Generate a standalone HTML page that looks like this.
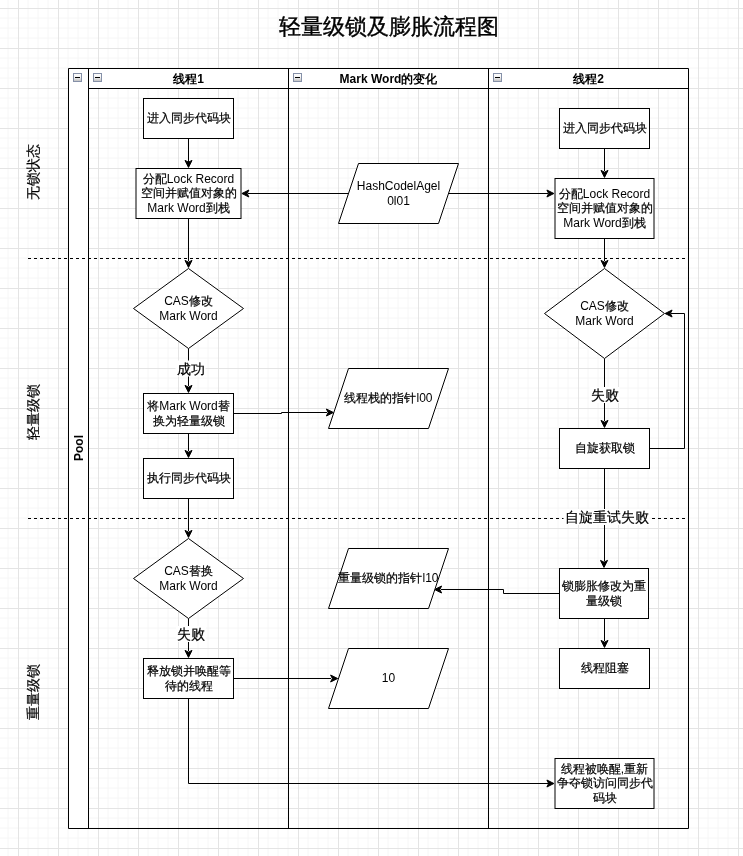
<!DOCTYPE html>
<html><head><meta charset="utf-8"><style>
html,body{margin:0;padding:0;background:#fff;width:743px;height:856px;overflow:hidden}
svg{display:block;will-change:transform}
text{font-family:"Liberation Sans",sans-serif;fill:#000}
.c{stroke:#000;stroke-width:0.2px}
</style></head><body>
<svg width="743" height="856" viewBox="0 0 743 856">
<defs>
<linearGradient id="ig" x1="0" y1="0" x2="0" y2="1"><stop offset="0" stop-color="#ffffff"/><stop offset="0.45" stop-color="#f4f4f4"/><stop offset="1" stop-color="#bdbdbd"/></linearGradient>
</defs>
<rect width="743" height="856" fill="#fff"/>

<path d="M8 0V856M28 0V856M38 0V856M48 0V856M68 0V856M78 0V856M88 0V856M108 0V856M118 0V856M128 0V856M148 0V856M158 0V856M168 0V856M188 0V856M198 0V856M208 0V856M228 0V856M238 0V856M248 0V856M268 0V856M278 0V856M288 0V856M308 0V856M318 0V856M328 0V856M348 0V856M358 0V856M368 0V856M388 0V856M398 0V856M408 0V856M428 0V856M438 0V856M448 0V856M468 0V856M478 0V856M488 0V856M508 0V856M518 0V856M528 0V856M548 0V856M558 0V856M568 0V856M588 0V856M598 0V856M608 0V856M628 0V856M638 0V856M648 0V856M668 0V856M678 0V856M688 0V856M708 0V856M718 0V856M728 0V856M0 18H743M0 28H743M0 38H743M0 58H743M0 68H743M0 78H743M0 98H743M0 108H743M0 118H743M0 138H743M0 148H743M0 158H743M0 178H743M0 188H743M0 198H743M0 218H743M0 228H743M0 238H743M0 258H743M0 268H743M0 278H743M0 298H743M0 308H743M0 318H743M0 338H743M0 348H743M0 358H743M0 378H743M0 388H743M0 398H743M0 418H743M0 428H743M0 438H743M0 458H743M0 468H743M0 478H743M0 498H743M0 508H743M0 518H743M0 538H743M0 548H743M0 558H743M0 578H743M0 588H743M0 598H743M0 618H743M0 628H743M0 638H743M0 658H743M0 668H743M0 678H743M0 698H743M0 708H743M0 718H743M0 738H743M0 748H743M0 758H743M0 778H743M0 788H743M0 798H743M0 818H743M0 828H743M0 838H743" stroke="#f6f6f6" stroke-width="1" fill="none"/>
<path d="M18.5 0V856M58.5 0V856M98.5 0V856M138.5 0V856M178.5 0V856M218.5 0V856M258.5 0V856M298.5 0V856M338.5 0V856M378.5 0V856M418.5 0V856M458.5 0V856M498.5 0V856M538.5 0V856M578.5 0V856M618.5 0V856M658.5 0V856M698.5 0V856M738.5 0V856M0 8.5H743M0 48.5H743M0 88.5H743M0 128.5H743M0 168.5H743M0 208.5H743M0 248.5H743M0 288.5H743M0 328.5H743M0 368.5H743M0 408.5H743M0 448.5H743M0 488.5H743M0 528.5H743M0 568.5H743M0 608.5H743M0 648.5H743M0 688.5H743M0 728.5H743M0 768.5H743M0 808.5H743M0 848.5H743" stroke="#e4e4e4" stroke-width="1" fill="none"/>
<text x="389" y="33.5" font-size="22" text-anchor="middle" class="c" style="stroke-width:0.4px">轻量级锁及膨胀流程图</text>
<rect x="68.5" y="68.5" width="20" height="760" fill="#fff"/>
<rect x="88.5" y="68.5" width="600" height="20" fill="#fff"/>
<path d="M68.5 68.5H688.5V828.5H68.5Z M88.5 68.5V828.5 M288.5 68.5V828.5 M488.5 68.5V828.5 M88.5 88.5H688.5" stroke="#000" fill="none"/>
<rect x="73.5" y="73.5" width="8" height="8" fill="url(#ig)" stroke="#8590a8"/>
<path d="M75 77.5H80" stroke="#000"/>
<rect x="93.5" y="73.5" width="8" height="8" fill="url(#ig)" stroke="#8590a8"/>
<path d="M95 77.5H100" stroke="#000"/>
<rect x="293.5" y="73.5" width="8" height="8" fill="url(#ig)" stroke="#8590a8"/>
<path d="M295 77.5H300" stroke="#000"/>
<rect x="493.5" y="73.5" width="8" height="8" fill="url(#ig)" stroke="#8590a8"/>
<path d="M495 77.5H500" stroke="#000"/>
<text x="188.5" y="82.5" font-size="12" font-weight="bold" text-anchor="middle">线程1</text>
<text x="388.5" y="82.5" font-size="12" font-weight="bold" text-anchor="middle">Mark Word的变化</text>
<text x="588.5" y="82.5" font-size="12" font-weight="bold" text-anchor="middle">线程2</text>
<text transform="translate(82.5 448) rotate(-90)" font-size="12" font-weight="bold" text-anchor="middle">Pool</text>
<text transform="translate(38 172) rotate(-90)" font-size="14" text-anchor="middle"><tspan class="c">无锁状态</tspan></text>
<text transform="translate(38 412) rotate(-90)" font-size="14" text-anchor="middle"><tspan class="c">轻量级锁</tspan></text>
<text transform="translate(38 692) rotate(-90)" font-size="14" text-anchor="middle"><tspan class="c">重量级锁</tspan></text>
<path d="M28 258.5H688 M28 518.5H688" stroke="#000" stroke-dasharray="3 3" fill="none"/>
<path d="M188.5 138.5V163" stroke="#000" fill="none"/>
<path d="M188.5 167.4L185.0 160.4L188.5 162.15L192.0 160.4Z" fill="#000" stroke="#000" stroke-miterlimit="10"/>
<path d="M188.5 218.5V261" stroke="#000" fill="none"/>
<path d="M188.5 267.4L185.0 260.4L188.5 262.15L192.0 260.4Z" fill="#000" stroke="#000" stroke-miterlimit="10"/>
<path d="M188.5 348.5V386" stroke="#000" fill="none"/>
<path d="M188.5 392.4L185.0 385.4L188.5 387.15L192.0 385.4Z" fill="#000" stroke="#000" stroke-miterlimit="10"/>
<rect x="175.5" y="360.5" width="30" height="16" fill="#fff"/>
<text x="190.5" y="373.5" font-size="14" text-anchor="middle"><tspan class="c">成功</tspan></text>
<path d="M188.5 433.5V451" stroke="#000" fill="none"/>
<path d="M188.5 457.4L185.0 450.4L188.5 452.15L192.0 450.4Z" fill="#000" stroke="#000" stroke-miterlimit="10"/>
<path d="M188.5 498.5V531" stroke="#000" fill="none"/>
<path d="M188.5 537.4L185.0 530.4L188.5 532.15L192.0 530.4Z" fill="#000" stroke="#000" stroke-miterlimit="10"/>
<path d="M188.5 618.5V651" stroke="#000" fill="none"/>
<path d="M188.5 657.4L185.0 650.4L188.5 652.15L192.0 650.4Z" fill="#000" stroke="#000" stroke-miterlimit="10"/>
<rect x="176.0" y="626.0" width="30" height="16" fill="#fff"/>
<text x="191" y="639.0" font-size="14" text-anchor="middle"><tspan class="c">失败</tspan></text>
<path d="M188.5 698.5V783.5H549" stroke="#000" fill="none"/>
<path d="M553.9 783.5L546.9 787.0L548.65 783.5L546.9 780.0Z" fill="#000" stroke="#000" stroke-miterlimit="10"/>
<path d="M348 193.5H248" stroke="#000" fill="none"/>
<path d="M241.9 193.5L248.9 190.0L247.15 193.5L248.9 197.0Z" fill="#000" stroke="#000" stroke-miterlimit="10"/>
<path d="M449 193.5H548" stroke="#000" fill="none"/>
<path d="M553.9 193.5L546.9 197.0L548.65 193.5L546.9 190.0Z" fill="#000" stroke="#000" stroke-miterlimit="10"/>
<path d="M233.5 413.5H281.5V412.5H327" stroke="#000" fill="none"/>
<path d="M333.4 412.5L326.4 416.0L328.15 412.5L326.4 409.0Z" fill="#000" stroke="#000" stroke-miterlimit="10"/>
<path d="M233.5 678.5H331" stroke="#000" fill="none"/>
<path d="M337.6 678.5L330.6 682.0L332.35 678.5L330.6 675.0Z" fill="#000" stroke="#000" stroke-miterlimit="10"/>
<path d="M604.5 148.5V171" stroke="#000" fill="none"/>
<path d="M604.5 177.4L601.0 170.4L604.5 172.15L608.0 170.4Z" fill="#000" stroke="#000" stroke-miterlimit="10"/>
<path d="M604.5 238.5V261" stroke="#000" fill="none"/>
<path d="M604.5 267.4L601.0 260.4L604.5 262.15L608.0 260.4Z" fill="#000" stroke="#000" stroke-miterlimit="10"/>
<path d="M604.5 358.5V421" stroke="#000" fill="none"/>
<path d="M604.5 427.4L601.0 420.4L604.5 422.15L608.0 420.4Z" fill="#000" stroke="#000" stroke-miterlimit="10"/>
<rect x="589.5" y="387.0" width="30" height="16" fill="#fff"/>
<text x="604.5" y="400.0" font-size="14" text-anchor="middle"><tspan class="c">失败</tspan></text>
<path d="M649.5 448.5H684.5V313.5H671" stroke="#000" fill="none"/>
<path d="M665.1 313.5L672.1 310.0L670.35 313.5L672.1 317.0Z" fill="#000" stroke="#000" stroke-miterlimit="10"/>
<path d="M604.5 468.5V561" stroke="#000" fill="none"/>
<path d="M604 567.4L600.5 560.4L604.0 562.15L607.5 560.4Z" fill="#000" stroke="#000" stroke-miterlimit="10"/>
<rect x="563.5" y="509.0" width="86" height="16" fill="#fff"/>
<text x="606.5" y="522.0" font-size="14" text-anchor="middle"><tspan class="c">自旋重试失败</tspan></text>
<path d="M604.5 618.5V641" stroke="#000" fill="none"/>
<path d="M604.5 647.4L601.0 640.4L604.5 642.15L608.0 640.4Z" fill="#000" stroke="#000" stroke-miterlimit="10"/>
<path d="M559.5 593.5H503.5V589.5H441" stroke="#000" fill="none"/>
<path d="M434.6 589.5L441.6 586.0L439.85 589.5L441.6 593.0Z" fill="#000" stroke="#000" stroke-miterlimit="10"/>
<rect x="143.5" y="98.5" width="90" height="40" fill="#fff" stroke="#000"/>
<text x="188.5" y="122.3" font-size="12" text-anchor="middle"><tspan class="c">进入同步代码块</tspan></text>
<rect x="136" y="168.5" width="105" height="50" fill="#fff" stroke="#000"/>
<text x="188.5" y="182.6" font-size="12" text-anchor="middle"><tspan class="c">分配</tspan>Lock Record</text>
<text x="188.5" y="197.3" font-size="12" text-anchor="middle"><tspan class="c">空间并赋值对象的</tspan></text>
<text x="188.5" y="212.0" font-size="12" text-anchor="middle">Mark Word<tspan class="c">到栈</tspan></text>
<path d="M188.5 268.5L243.5 308.5L188.5 348.5L133.5 308.5Z" fill="#fff" stroke="#000"/>
<text x="188.5" y="305.0" font-size="12" text-anchor="middle">CAS<tspan class="c">修改</tspan></text>
<text x="188.5" y="319.7" font-size="12" text-anchor="middle">Mark Word</text>
<rect x="143.5" y="393.5" width="90" height="40" fill="#fff" stroke="#000"/>
<text x="188.5" y="410.0" font-size="12" text-anchor="middle"><tspan class="c">将</tspan>Mark Word<tspan class="c">替</tspan></text>
<text x="188.5" y="424.7" font-size="12" text-anchor="middle"><tspan class="c">换为轻量级锁</tspan></text>
<rect x="143.5" y="458.5" width="90" height="40" fill="#fff" stroke="#000"/>
<text x="188.5" y="482.3" font-size="12" text-anchor="middle"><tspan class="c">执行同步代码块</tspan></text>
<path d="M188.5 538.5L243.5 578.5L188.5 618.5L133.5 578.5Z" fill="#fff" stroke="#000"/>
<text x="188.5" y="575.0" font-size="12" text-anchor="middle">CAS<tspan class="c">替换</tspan></text>
<text x="188.5" y="589.7" font-size="12" text-anchor="middle">Mark Word</text>
<rect x="143.5" y="658.5" width="90" height="40" fill="#fff" stroke="#000"/>
<text x="188.5" y="675.0" font-size="12" text-anchor="middle"><tspan class="c">释放锁并唤醒等</tspan></text>
<text x="188.5" y="689.7" font-size="12" text-anchor="middle"><tspan class="c">待的线程</tspan></text>
<path d="M358.5 163.5L458.5 163.5L438.5 223.5L338.5 223.5Z" fill="#fff" stroke="#000"/>
<text x="398.5" y="190.0" font-size="12" text-anchor="middle">HashCodelAgel</text>
<text x="398.5" y="204.7" font-size="12" text-anchor="middle">0l01</text>
<path d="M348.5 368.5L448.5 368.5L428.5 428.5L328.5 428.5Z" fill="#fff" stroke="#000"/>
<text x="388.5" y="402.3" font-size="12" text-anchor="middle"><tspan class="c">线程栈的指针</tspan>l00</text>
<path d="M348.5 548.5L448.5 548.5L428.5 608.5L328.5 608.5Z" fill="#fff" stroke="#000"/>
<text x="388.5" y="582.3" font-size="12" text-anchor="middle"><tspan class="c">重量级锁的指针</tspan>l10</text>
<path d="M348.5 648.5L448.5 648.5L428.5 708.5L328.5 708.5Z" fill="#fff" stroke="#000"/>
<text x="388.5" y="682.3" font-size="12" text-anchor="middle">10</text>
<rect x="559.5" y="108.5" width="90" height="40" fill="#fff" stroke="#000"/>
<text x="604.5" y="132.3" font-size="12" text-anchor="middle"><tspan class="c">进入同步代码块</tspan></text>
<rect x="555" y="178.5" width="99" height="60" fill="#fff" stroke="#000"/>
<text x="604.5" y="197.6" font-size="12" text-anchor="middle"><tspan class="c">分配</tspan>Lock Record</text>
<text x="604.5" y="212.3" font-size="12" text-anchor="middle"><tspan class="c">空间并赋值对象的</tspan></text>
<text x="604.5" y="227.0" font-size="12" text-anchor="middle">Mark Word<tspan class="c">到栈</tspan></text>
<path d="M604.5 268.5L664.5 313.5L604.5 358.5L544.5 313.5Z" fill="#fff" stroke="#000"/>
<text x="604.5" y="310.0" font-size="12" text-anchor="middle">CAS<tspan class="c">修改</tspan></text>
<text x="604.5" y="324.7" font-size="12" text-anchor="middle">Mark Word</text>
<rect x="559.5" y="428.5" width="90" height="40" fill="#fff" stroke="#000"/>
<text x="604.5" y="452.3" font-size="12" text-anchor="middle"><tspan class="c">自旋获取锁</tspan></text>
<rect x="559.5" y="568.5" width="89" height="50" fill="#fff" stroke="#000"/>
<text x="604.0" y="590.0" font-size="12" text-anchor="middle"><tspan class="c">锁膨胀修改为重</tspan></text>
<text x="604.0" y="604.7" font-size="12" text-anchor="middle"><tspan class="c">量级锁</tspan></text>
<rect x="559.5" y="648.5" width="90" height="40" fill="#fff" stroke="#000"/>
<text x="604.5" y="672.3" font-size="12" text-anchor="middle"><tspan class="c">线程阻塞</tspan></text>
<rect x="555" y="758.5" width="99" height="50" fill="#fff" stroke="#000"/>
<text x="604.5" y="772.6" font-size="12" text-anchor="middle"><tspan class="c">线程被唤醒</tspan>,<tspan class="c">重新</tspan></text>
<text x="604.5" y="787.3" font-size="12" text-anchor="middle"><tspan class="c">争夺锁访问同步代</tspan></text>
<text x="604.5" y="802.0" font-size="12" text-anchor="middle"><tspan class="c">码块</tspan></text>
</svg></body></html>
